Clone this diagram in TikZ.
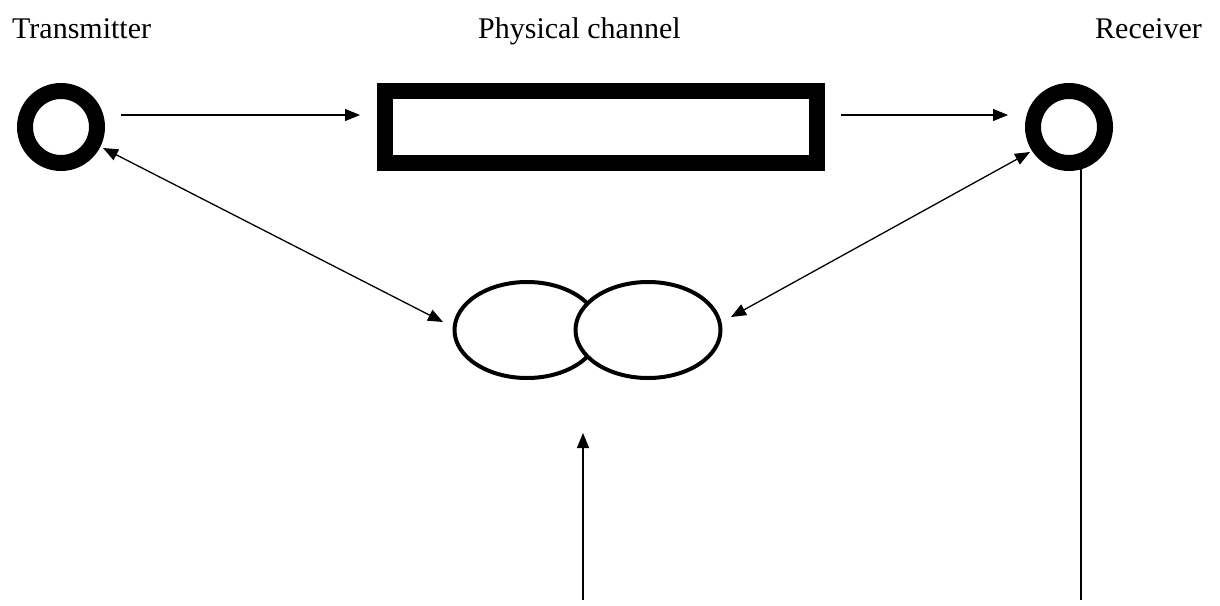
\documentclass[tikz,border=0pt]{standalone}
\usepackage{fontspec}
\setmainfont{Liberation Serif}
\usetikzlibrary{arrows.meta,shapes.geometric}
\begin{document}
\begin{tikzpicture}[x=1pt,y=-1pt,
  ring/.style={circle,draw,line width=16pt,minimum size=72pt,inner sep=0pt},
  channelbox/.style={rectangle,draw,line width=16pt,minimum width=432pt,minimum height=72pt,inner sep=0pt},
  oval/.style={ellipse,draw,fill=white,line width=4pt,minimum width=145pt,minimum height=96pt,inner sep=0pt},
  lbl/.style={font=\fontsize{30}{36}\selectfont,inner sep=0pt,anchor=base west},
  conn/.style={line width=1.3pt,-{Triangle[length=15pt,width=12pt]}},
  dconn/.style={line width=1.3pt,{Triangle[length=15pt,width=12pt]}-{Triangle[length=15pt,width=12pt]}},
  plain/.style={line width=2pt}]
\useasboundingbox (0,0) rectangle (1220,605);
\fill[white] (0,0) rectangle (1220,605);
\node[lbl] (ltx) at (12,38) {Transmitter};
\node[lbl] (lch) at (478,38) {Physical channel};
\node[lbl] (lrx) at (1095,38) {Receiver};
\node[ring] (tx) at (61,127) {};
\node[ring] (rx) at (1069,127) {};
\node[channelbox] (ch) at (601,127) {};
\node[oval] (ovl) at (527,330) {};
\node[oval] (ovr) at (648,330) {};
\coordinate (a1s) at (121,115);
\coordinate (a1e) at (360,115);
\coordinate (a2s) at (841,115);
\coordinate (a2e) at (1008,115);
\coordinate (d1a) at (103,148);
\coordinate (d1b) at (443,322);
\coordinate (d2a) at (731,317);
\coordinate (d2b) at (1030,152);
\coordinate (vb) at (583,600);
\coordinate (vt) at (583,433);
\coordinate (lt) at (1081,165);
\coordinate (lb) at (1081,600);
\draw[conn] (a1s) -- (a1e);
\draw[conn] (a2s) -- (a2e);
\draw[dconn] (d1a) -- (d1b);
\draw[dconn] (d2a) -- (d2b);
\draw[conn] (vb) -- (vt);
\draw[plain] (lt) -- (lb);
\end{tikzpicture}
\end{document}
